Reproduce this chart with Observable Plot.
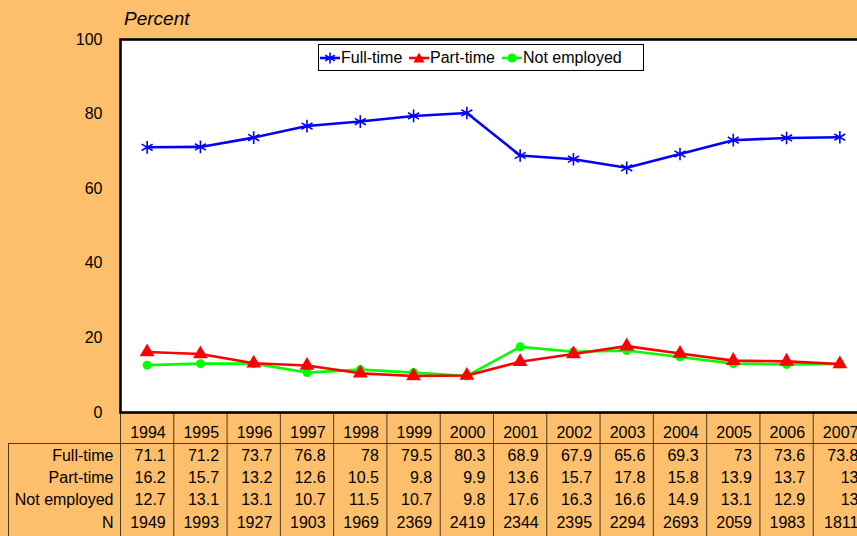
<!DOCTYPE html>
<html>
<head>
<meta charset="utf-8">
<script src="https://cdn.jsdelivr.net/npm/d3@7"></script>
<script src="https://cdn.jsdelivr.net/npm/@observablehq/plot@0.6"></script>
<style>
  html, body { margin: 0; padding: 0; overflow: hidden; background: #FDBF6B; width: 857px; height: 536px; }
  body { position: relative; font-family: "Liberation Sans", Arial, sans-serif; }
  #chart { position: absolute; left: 0; top: 0; width: 870px; }
  #chart svg { max-width: none !important; }
  #ylabel { position: absolute; left: 124px; top: 9px; font-size: 19px; line-height: 19px; font-style: italic; color: #000; }
  #legend { position: absolute; left: 318px; top: 44px; width: 326px; height: 27px; border: 1px solid #000; background: #fff; box-sizing: border-box; font-size: 16px; line-height: 25px; }
  .item { position: absolute; top: 0; display: flex; align-items: center; height: 25px; }
  .item svg { display: block; margin-right: 1px; }
</style>
</head>
<body>
<div id="chart"></div>
<div id="ylabel">Percent</div>
<div id="legend"></div>
<script>
const years = [1994, 1995, 1996, 1997, 1998, 1999, 2000, 2001, 2002, 2003, 2004, 2005, 2006, 2007];
const fullTime = [71.1, 71.2, 73.7, 76.8, 78, 79.5, 80.3, 68.9, 67.9, 65.6, 69.3, 73, 73.6, 73.8];
const partTime = [16.2, 15.7, 13.2, 12.6, 10.5, 9.8, 9.9, 13.6, 15.7, 17.8, 15.8, 13.9, 13.7, 13];
const notEmployed = [12.7, 13.1, 13.1, 10.7, 11.5, 10.7, 9.8, 17.6, 16.3, 16.6, 14.9, 13.1, 12.9, 13];
const counts = [1949, 1993, 1927, 1903, 1969, 2369, 2419, 2344, 2395, 2294, 2693, 2059, 1983, 1811];
const seriesNames = ["Full-time", "Part-time", "Not employed"];
const yTicks = [0, 20, 40, 60, 80, 100];

const colors = {"Full-time": "#0000FF", "Part-time": "#FF0000", "Not employed": "#00FF00"};
const toRows = (vals) => years.map((y, i) => ({year: y, value: vals[i]}));
const ft = toRows(fullTime), pt = toRows(partTime), ne = toRows(notEmployed);

const tableRows = [
  {label: "Full-time", vals: fullTime, dy: 48},
  {label: "Part-time", vals: partTime, dy: 70},
  {label: "Not employed", vals: notEmployed, dy: 92},
  {label: "N", vals: counts, dy: 115}
];
const lineColor = "#4a3a22";
const cellDx = 18.6;

const marks = [
  Plot.ruleX(years, {x: d => d - 0.5, y1: 0, y2: -40, stroke: lineColor, strokeWidth: 1}),
  Plot.ruleX([years[years.length - 1]], {x: d => d + 0.5, y1: 0, y2: -40, stroke: lineColor, strokeWidth: 1}),
  Plot.ruleX([years[0]], {x: d => d - 0.5, y1: 0, y2: -40, insetTop: 31, dx: -112, stroke: lineColor, strokeWidth: 1}),
  Plot.ruleY([0], {dy: 31, insetLeft: -112, stroke: lineColor, strokeWidth: 1}),
  Plot.text(years, {x: d => d, text: d => String(d), frameAnchor: "bottom", dy: 25, dx: cellDx, textAnchor: "end", fontSize: 16, fill: "#000"}),
  ...tableRows.flatMap(r => [
    Plot.text(years.map((y, i) => ({year: y, v: r.vals[i]})), {x: "year", text: d => String(d.v), frameAnchor: "bottom", dy: r.dy, dx: cellDx, textAnchor: "end", fontSize: 16, fill: "#000"}),
    Plot.text([r.label], {text: d => d, frameAnchor: "bottom-left", dy: r.dy, dx: -7, textAnchor: "end", fontSize: 16, fill: "#000"})
  ]),
  Plot.line(ne, {x: "year", y: "value", stroke: colors["Not employed"], strokeWidth: 2.6}),
  Plot.dot(ne, {x: "year", y: "value", symbol: "circle", fill: colors["Not employed"], r: 4.5}),
  Plot.line(pt, {x: "year", y: "value", stroke: colors["Part-time"], strokeWidth: 2.6}),
  Plot.dot(pt, {x: "year", y: "value", symbol: "triangle", fill: colors["Part-time"], r: 5.5}),
  Plot.line(ft, {x: "year", y: "value", stroke: colors["Full-time"], strokeWidth: 2.6}),
  Plot.dot(ft, {x: "year", y: "value", symbol: "asterisk", stroke: colors["Full-time"], strokeWidth: 1.6, r: 6}),
  Plot.frame({stroke: "#000", strokeWidth: 2.6})
];

const chart = Plot.plot({
  width: 870,
  height: 536,
  marginLeft: 120,
  marginRight: 4,
  marginTop: 39,
  marginBottom: 124,
  style: {background: "transparent", fontFamily: "'Liberation Sans', Arial, sans-serif", fontSize: "16px", color: "#000", overflow: "visible", maxWidth: "none"},
  x: {type: "linear", domain: [years[0] - 0.5, years[years.length - 1] + 0.5], axis: null},
  y: {domain: [0, 100], ticks: yTicks, tickSize: 0, tickPadding: 18, label: null, tickFormat: d => String(d)},
  marks
});
chart.style.maxWidth = "none";
const bg = document.createElementNS("http://www.w3.org/2000/svg", "rect");
bg.setAttribute("x", 120); bg.setAttribute("y", 39); bg.setAttribute("width", 746); bg.setAttribute("height", 373); bg.setAttribute("fill", "#fff");
chart.insertBefore(bg, chart.firstChild.nextSibling);
document.getElementById("chart").appendChild(chart);

const legend = document.getElementById("legend");
const itemX = {"Full-time": 0, "Part-time": 89, "Not employed": 182};
const swatch = {
  "Full-time": `<line x1="1" y1="7" x2="21" y2="7" stroke="#0000FF" stroke-width="2.6"/><g stroke="#0000FF" stroke-width="1.6"><line x1="11" y1="1.5" x2="11" y2="12.5"/><line x1="6.2" y1="4.2" x2="15.8" y2="9.8"/><line x1="6.2" y1="9.8" x2="15.8" y2="4.2"/></g>`,
  "Part-time": `<line x1="1" y1="7" x2="21" y2="7" stroke="#FF0000" stroke-width="2.6"/><path d="M11,1.5 L16.5,11.5 L5.5,11.5 Z" fill="#FF0000"/>`,
  "Not employed": `<line x1="1" y1="7" x2="21" y2="7" stroke="#00FF00" stroke-width="2.6"/><circle cx="11" cy="7" r="4.5" fill="#00FF00"/>`
};
seriesNames.forEach(name => {
  const it = document.createElement("div");
  it.className = "item";
  it.style.left = itemX[name] + "px";
  it.innerHTML = `<svg width="21" height="14">${swatch[name]}</svg><span>${name}</span>`;
  legend.appendChild(it);
});
</script>
</body>
</html>
